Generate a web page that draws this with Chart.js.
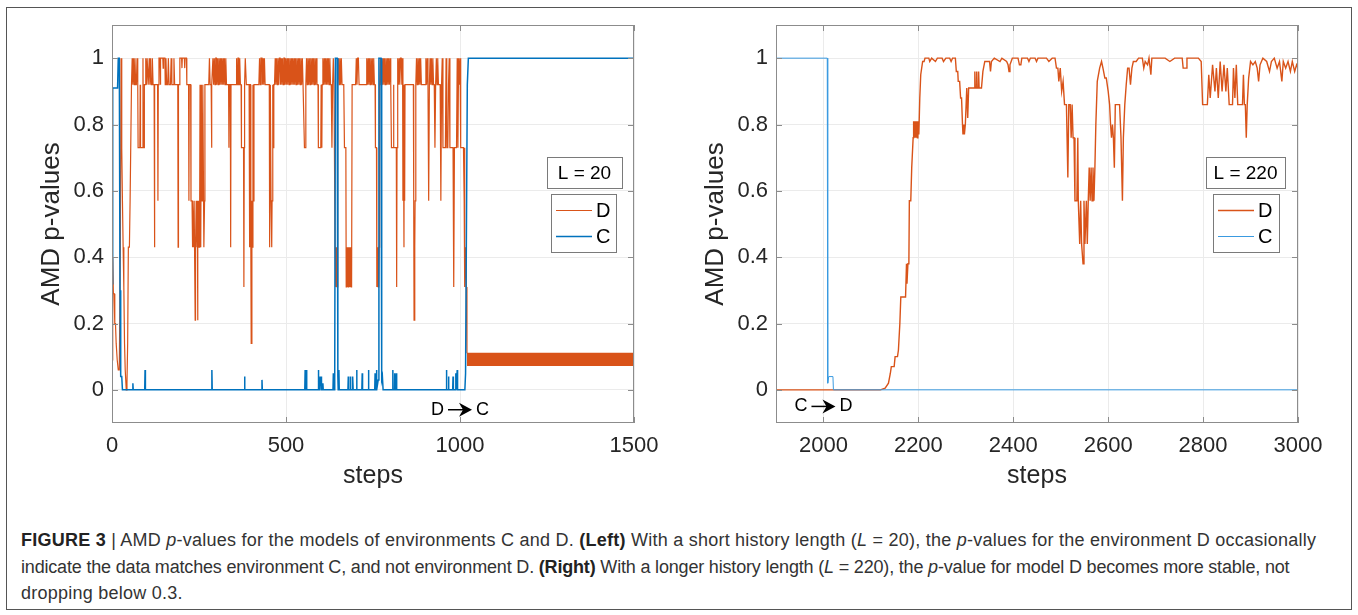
<!DOCTYPE html>
<html lang="en">
<head>
  <meta charset="UTF-8">
  <title>AMD p-values, environments C and D</title>
  <script src="https://cdn.jsdelivr.net/npm/chart.js"></script>
  <style>
    body { margin: 0; background: #fff; }
    #frame { position: absolute; left: 6px; top: 7px; width: 1346px; height: 603px; border: 1px solid #555; box-sizing: border-box; }
    .panel { position: absolute; top: 0; }
    #leftChart { left: 0; }
    #rightChart { left: 680px; }
    #caption { position: absolute; left: 21px; top: 527px; font: 18px "Liberation Sans", Arial, sans-serif;
               letter-spacing: 0.24px; line-height: 26.5px; color: #333; white-space: nowrap; }
    #caption .tight { letter-spacing: -0.18px; }
    #caption b { color: #222; }
  </style>
</head>
<body>
<div id="frame"></div>
<canvas id="leftChart" class="panel" width="680" height="500"></canvas>
<canvas id="rightChart" class="panel" width="678" height="500"></canvas>
<div id="caption"><b>FIGURE 3</b> | AMD <i>p</i>-values for the models of environments C and D. <b>(Left)</b> With a short history length (<i>L</i> = 20), the <i>p</i>-values for the environment D occasionally<br><span class="tight">indicate the data matches environment C, and not environment D. <b>(Right)</b> With a longer history length (<i>L</i> = 220), the <i>p</i>-value for model D becomes more stable, not</span><br>dropping below 0.3.</div>

<script>
  // ---- data: [step, p-value] pairs ----
  // L = 20, change D -> C at step ~1020
  const dShort = [
    [0,0.09],[2,0.40],[4,0.29],[6,0.29],[8,0.20],[10,0.20],[12,0.14],[15,0.09],[18,0.06],[21,0.06],[24,0.43],[26,1],[28,0.73],
    [30,0.57],[32,0.43],[34,0.31],[36,0.14],[38,0.06],[41,0],[43,0.02],[45,0.14],[47,0.43],[50,0.43],[52,0.57],[54,0.57],[56,0.92],[58,1],
    [60,0.92],[62,1],[64,0.92],[66,1],[68,0.92],[70,0.92],[72,1],[74,0.92],[75,0.73],[80,0.73],[81,0.92],[82,0.73],[88,0.73],[89,1],
    [90,0.73],[92,0.73],[93,0.92],[96,0.92],[97,1],[99,0.92],[101,1],[103,1],[104,0.92],[107,1],[109,0.92],[111,1],[113,0.92],[115,0.92],
    [116,1],[118,0.92],[121,0.92],[122,0.43],[123,0.92],[131,0.92],[132,0.57],[133,0.92],[135,1],[138,1],[139,0.92],[140,1],[146,1],
    [147,0.97],[148,1],[152,1],[153,0.92],[155,1],[157,0.92],[160,0.92],[162,1],[164,0.92],[168,0.92],[170,1],[172,0.92],[176,0.92],
    [178,1],[180,0.92],[189,0.92],[190,0.43],[191,0.92],[194,0.92],[195,1],[200,1],[201,0.97],[202,1],[208,1],[209,0.97],[210,1],[214,1],
    [215,0.92],[220,0.92],[221,0.57],[222,0.92],[226,0.92],[227,0.57],[230,0.57],[231,0.43],[232,0.57],[235,0.43],[236,0.57],[238,0.57],
    [239,0.21],[240,0.43],[242,0.57],[244,0.43],[245,0.57],[246,0.21],[247,0.43],[249,0.57],[250,0.43],[252,0.57],[253,0.92],[255,0.43],
    [257,0.92],[259,0.57],[261,0.92],[264,0.43],[266,0.57],[267,0.92],[278,0.92],[280,1],[282,0.92],[285,0.92],[286,0.73],[287,0.92],
    [290,1],[292,0.92],[294,1],[296,0.92],[298,1],[300,1],[301,0.92],[303,1],[305,0.92],[307,1],[309,0.92],[311,1],[313,0.92],[315,1],
    [317,0.92],[319,1],[321,0.92],[323,1],[325,0.92],[327,1],[329,0.92],[335,0.92],[336,0.73],[337,0.92],[340,0.92],[341,0.43],[342,0.92],
    [357,0.92],[358,1],[360,0.92],[362,1],[364,1],[365,0.92],[367,1],[369,0.92],[371,0.92],[372,0.73],[378,0.73],[379,0.31],[380,0.73],
    [381,0.92],[383,1],[385,1],[386,0.92],[394,0.92],[395,0.43],[396,0.92],[398,0.92],[399,0.43],[400,0.14],[402,0.57],[404,0.43],
    [405,0.92],[407,0.57],[408,0.92],[422,0.92],[424,1],[426,0.92],[428,1],[431,1],[432,0.92],[434,1],[436,0.92],[438,1],[440,0.92],
    [452,0.92],[453,0.43],[455,0.92],[457,0.57],[459,0.43],[460,0.57],[462,0.92],[464,0.73],[465,0.92],[467,0.92],[469,1],[471,0.92],
    [473,1],[475,0.92],[477,1],[479,0.92],[481,1],[483,1],[484,0.92],[486,1],[488,0.92],[490,1],[492,0.92],[494,1],[496,1],[497,0.92],
    [499,1],[501,0.92],[503,1],[505,0.92],[507,1],[509,0.92],[511,1],[513,0.92],[515,1],[517,0.92],[519,1],[521,0.92],[523,1],[525,0.92],
    [527,1],[529,0.92],[531,1],[533,0.92],[535,1],[537,0.92],[539,1],[541,0.92],[543,1],[545,0.92],[547,1],[549,0.92],[551,0.92],
    [553,0.73],[556,0.73],[557,0.92],[559,1],[561,0.92],[563,1],[565,0.92],[567,1],[569,0.92],[571,1],[573,0.92],[575,1],[577,0.92],
    [579,1],[581,0.92],[583,1],[585,0.92],[587,1],[589,0.92],[592,0.92],[593,0.73],[600,0.73],[601,0.92],[603,0.73],[604,0.92],[606,1],
    [608,0.92],[610,1],[612,0.92],[614,1],[616,0.92],[618,1],[620,0.92],[622,1],[624,0.92],[626,1],[628,0.92],[630,0.92],[632,0.73],
    [634,0.92],[636,1],[638,0.92],[640,0.92],[641,0.43],[643,0.31],[644,0.43],[645,0.31],[646,0.43],[647,0.31],[648,0.43],[649,0.92],
    [651,1],[653,0.92],[655,1],[657,0.92],[659,1],[661,0.92],[666,0.92],[668,0.73],[672,0.73],[673,0.31],[674,0.43],[675,0.31],[676,0.43],
    [677,0.31],[678,0.43],[679,0.31],[680,0.43],[681,0.31],[682,0.43],[683,0.31],[684,0.43],[685,0.31],[686,0.43],[687,0.31],[688,0.43],
    [689,0.31],[690,0.92],[700,0.92],[702,1],[704,0.92],[706,1],[708,1],[710,0.92],[730,0.92],[732,1],[734,0.92],[736,1],[738,0.92],
    [740,1],[742,0.92],[744,1],[746,0.92],[748,1],[750,0.92],[752,1],[754,0.92],[756,0.92],[757,0.73],[760,0.73],[761,0.31],[762,0.43],
    [763,0.31],[764,0.43],[765,0.31],[766,0.43],[767,0.31],[768,0.43],[769,0.92],[771,1],[773,0.92],[775,1],[777,0.92],[779,1],[781,0.92],
    [783,1],[785,0.92],[787,1],[789,0.92],[791,1],[793,0.92],[795,1],[797,0.92],[799,1],[801,0.92],[803,0.73],[808,0.73],[809,0.92],
    [810,0.73],[817,0.73],[818,0.31],[819,0.73],[821,1],[823,0.92],[825,1],[827,0.92],[829,1],[831,1],[833,0.92],[835,1],[836,0.57],
    [837,0.92],[839,0.43],[840,0.92],[841,0.57],[842,0.92],[866,0.92],[867,0.57],[868,0.21],[870,0.43],[871,0.57],[873,0.92],[875,1],
    [877,0.92],[879,1],[881,0.92],[883,1],[885,0.92],[887,1],[889,0.92],[900,0.92],[902,1],[904,0.92],[906,1],[908,0.92],[910,0.57],
    [912,0.92],[914,1],[916,0.92],[918,1],[920,0.92],[922,1],[924,0.92],[926,0.92],[928,0.73],[930,0.92],[932,1],[934,0.92],[936,1],
    [938,0.92],[943,0.92],[945,0.57],[947,0.92],[949,1],[951,0.73],[958,0.73],[960,1],[962,0.73],[965,0.73],[967,0.92],[969,1],
    [971,0.73],[980,0.73],[982,0.31],[984,0.73],[990,0.73],[992,1],[994,0.73],[996,1],[998,0.92],[1000,1],[1002,0.73],[1010,0.73],
    [1012,0.57],[1013,0.73],[1014,0.31],[1016,0.43],[1018,0.31],[1020,0.11]
  ];
  // after the switch D flickers fast between these two levels
  const dShortBandSteps = [1020, 1500];
  const dShortBandLow = 0.072;
  const dShortBandHigh = 0.112;

  const cShort = [
    [0,0.32],[2,0.91],[16,0.91],[18,1],[21,1],[23,0.3],[25,0.04],[28,0.04],[30,0],[59,0],[60,0.02],[61,0],[94,0],[95,0.06],[96,0],
    [286,0],[287,0.06],[288,0],[380,0],[381,0.04],[382,0],[430,0],[431,0.03],[432,0],[554,0],[555,0.06],[556,0],[558,0],[559,0.06],
    [560,0],[592,0],[593,0.06],[594,0],[597,0],[598,0.04],[599,0.02],[601,0.04],[602,0],[605,0],[606,0.02],[607,0],[635,0],[636,0.05],
    [638,0],[640,0.03],[642,1],[647,1],[649,0.04],[650,0],[652,0.06],[653,0],[678,0],[679,0.04],[680,0],[684,0],[685,0.04],[686,0],
    [690,0],[691,0.02],[692,0.04],[693,0],[702,0],[703,0.06],[704,0],[718,0],[719,0.05],[720,0],[736,0],[737,0.06],[738,0],[755,0],
    [756,0.05],[757,0],[759,0],[760,0.06],[761,0],[765,0.03],[767,1],[773,1],[775,0.03],[777,0.04],[779,0],[806,0],[807,0.06],[808,0],
    [811,0],[812,0.05],[813,0],[816,0],[817,0.05],[818,0],[960,0],[961,0.06],[962,0],[966,0],[967,0.04],[968,0],[979,0],[980,0.04],
    [981,0],[987,0],[988,0.05],[989,0],[991,0],[992,0.06],[993,0],[1014,0],[1016,0.05],[1021,0.92],[1024,1],[1500,1]
  ];

  // L = 220, change C -> D at step 2000
  const dLong = [
    [1900,0],[2120,0],[2130,0.005],[2137,0.02],[2141,0.05],[2143,0.07],[2149,0.07],[2151,0.1],[2156,0.1],[2158,0.12],[2161,0.2],
    [2163,0.28],[2173,0.28],[2175,0.38],[2176,0.32],[2178,0.38],[2180,0.38],[2181,0.57],[2184,0.57],[2186,0.67],[2187,0.7],[2189,0.76],
    [2190,0.81],[2192,0.76],[2193,0.81],[2195,0.76],[2196,0.81],[2198,0.76],[2199,0.81],[2201,0.77],[2203,0.88],[2205,0.95],[2209,0.99],
    [2212,0.99],[2214,1],[2222,1],[2224,0.99],[2228,1],[2236,0.99],[2240,1],[2250,1],[2253,0.99],[2258,1],[2266,1],[2269,0.99],[2272,1],
    [2278,1],[2280,0.96],[2283,0.96],[2284,0.93],[2287,0.93],[2289,0.88],[2291,0.88],[2293,0.80],[2294,0.77],[2296,0.80],[2297,0.77],
    [2299,0.80],[2302,0.91],[2304,0.82],[2306,0.91],[2318,0.91],[2319,0.96],[2320,0.91],[2322,0.91],[2323,0.96],[2324,0.91],[2326,0.91],
    [2327,0.96],[2328,0.91],[2333,0.91],[2336,0.96],[2340,0.99],[2350,0.99],[2352,0.96],[2354,0.99],[2360,1],[2372,0.99],[2376,1],
    [2386,0.99],[2389,0.98],[2391,0.96],[2393,0.98],[2398,1],[2410,1],[2413,0.98],[2416,0.98],[2418,1],[2430,1],[2433,0.99],[2436,1],
    [2446,1],[2449,0.99],[2452,1],[2470,1],[2475,0.99],[2482,1],[2488,1],[2491,0.97],[2494,0.97],[2496,0.93],[2499,0.97],[2502,0.9],
    [2505,0.93],[2508,0.86],[2512,0.86],[2515,0.64],[2517,0.86],[2520,0.86],[2522,0.76],[2524,0.86],[2526,0.76],[2528,0.76],[2530,0.57],
    [2534,0.57],[2536,0.76],[2537,0.57],[2540,0.44],[2542,0.57],[2544,0.44],[2547,0.38],[2549,0.57],[2551,0.44],[2554,0.57],[2556,0.44],
    [2558,0.57],[2560,0.67],[2562,0.57],[2564,0.67],[2566,0.57],[2568,0.67],[2570,0.57],[2572,0.67],[2574,0.8],[2577,0.93],[2582,0.97],
    [2586,0.99],[2589,0.97],[2593,0.94],[2596,0.94],[2600,0.9],[2603,0.86],[2605,0.8],[2607,0.76],[2609,0.8],[2611,0.76],[2613,0.67],
    [2615,0.86],[2624,0.86],[2627,0.76],[2630,0.57],[2632,0.76],[2635,0.86],[2638,0.92],[2641,0.97],[2644,0.97],[2647,0.92],[2650,0.97],
    [2653,0.99],[2659,0.99],[2664,1],[2672,1],[2675,0.97],[2678,0.99],[2683,0.98],[2686,1],[2690,0.95],[2692,1],[2720,1],[2730,0.99],
    [2740,1],[2756,1],[2758,0.97],[2764,0.97],[2766,1],[2790,1],[2796,0.99],[2799,0.86],[2809,0.86],[2812,0.95],[2815,0.88],[2820,0.98],
    [2825,0.9],[2828,0.97],[2832,0.88],[2836,0.99],[2840,0.9],[2844,0.98],[2848,0.9],[2851,0.97],[2855,0.86],[2862,0.86],[2864,0.97],
    [2867,0.88],[2870,0.98],[2873,0.86],[2883,0.86],[2885,0.95],[2887,0.86],[2889,0.86],[2891,0.76],[2893,0.86],[2896,0.94],[2900,0.99],
    [2905,0.98],[2910,0.99],[2914,0.97],[2917,0.93],[2920,0.98],[2926,1],[2934,0.99],[2940,0.96],[2944,0.99],[2950,1],[2956,0.97],
    [2961,0.99],[2966,0.93],[2969,0.99],[2974,0.97],[2979,0.99],[2984,0.96],[2988,0.99],[2993,0.96],[2997,0.98],[3000,0.97]
  ];
  const cLong = [[1900,1],[2008,1],[2009,0.02],[2011,0.04],[2020,0.04],[2021,0],[3000,0]];

  const pTicks = [0, 0.2, 0.4, 0.6, 0.8, 1];
  const stepTicksShort = [0, 500, 1000, 1500];
  const stepTicksLong = [2000, 2200, 2400, 2600, 2800, 3000];

  const ORANGE = '#D95319';
  const BLUE = '#0072BD';
  const FONT = '"Liberation Sans", Arial, Helvetica, sans-serif';
  const AXIS_GREY = '#8c8c8c';

  const toXY = pairs => pairs.map(([x, y]) => ({x, y}));

  // box, inward ticks, legend with its title box and the switch marker
  const matlabDecor = {
    id: 'matlabDecor',
    afterDraw(chart, args, o) {
      const {ctx, chartArea: a, scales: {x, y}} = chart;
      ctx.save();
      ctx.strokeStyle = AXIS_GREY;
      ctx.lineWidth = 1;
      ctx.beginPath();
      y.ticks.forEach(t => {
        const py = Math.round(y.getPixelForValue(t.value)) + 0.5;
        ctx.moveTo(a.left, py); ctx.lineTo(a.left + 6, py);
        ctx.moveTo(a.right, py); ctx.lineTo(a.right - 6, py);
      });
      x.ticks.forEach(t => {
        const px = Math.round(x.getPixelForValue(t.value)) + 0.5;
        ctx.moveTo(px, a.top); ctx.lineTo(px, a.top + 6);
        ctx.moveTo(px, a.bottom); ctx.lineTo(px, a.bottom - 6);
      });
      ctx.stroke();
      ctx.strokeRect(Math.round(a.left) + 0.5, Math.round(a.top) + 0.5, Math.round(a.width) - 1, Math.round(a.height) - 1);

      // legend title box
      const tx = Math.round(a.right - o.titleRight - o.titleWidth), ty = Math.round(a.top + 132);
      ctx.fillStyle = '#fff';
      ctx.fillRect(tx, ty, o.titleWidth, 31);
      ctx.strokeStyle = '#7a7a7a';
      ctx.strokeRect(tx + 0.5, ty + 0.5, o.titleWidth, 31);
      ctx.fillStyle = '#000';
      ctx.font = '19px ' + FONT;
      ctx.textAlign = 'center';
      ctx.textBaseline = 'middle';
      ctx.fillText(o.title, tx + o.titleWidth / 2, ty + 17);

      // legend entries
      const bx = Math.round(a.right - o.boxRight - o.boxWidth), by = Math.round(a.top + 169);
      ctx.fillStyle = '#fff';
      ctx.fillRect(bx, by, o.boxWidth, 58);
      ctx.strokeRect(bx + 0.5, by + 0.5, o.boxWidth, 58);
      ctx.font = '20px ' + FONT;
      ctx.textAlign = 'left';
      chart.data.datasets.filter(ds => ds.label === 'D' || ds.label === 'C').forEach((ds, i) => {
        const ly = by + 16.5 + i * 26;
        ctx.strokeStyle = ds.borderColor;
        ctx.lineWidth = ds.borderWidth;
        ctx.beginPath();
        ctx.moveTo(bx + 5, ly); ctx.lineTo(bx + 41, ly);
        ctx.stroke();
        ctx.fillStyle = '#000';
        ctx.fillText(ds.label, bx + 45, ly + 1);
      });

      // "from -> to" marker under the switch step
      const n = o.note;
      const cx = x.getPixelForValue(n.at), cy = y.getPixelForValue(n.y);
      ctx.font = '18px ' + FONT;
      const w1 = ctx.measureText(n.from).width, w2 = ctx.measureText(n.to).width;
      const arrow = 24, gap = 4;
      const sx = cx - (w1 + w2 + arrow + 2 * gap) / 2;
      ctx.fillStyle = '#000';
      ctx.fillText(n.from, sx, cy);
      const ax0 = sx + w1 + gap, ax1 = ax0 + arrow;
      ctx.strokeStyle = '#000';
      ctx.lineWidth = 1.5;
      ctx.beginPath(); ctx.moveTo(ax0, cy); ctx.lineTo(ax1 - 8, cy); ctx.stroke();
      ctx.beginPath();
      ctx.moveTo(ax1, cy); ctx.lineTo(ax1 - 13, cy - 7); ctx.lineTo(ax1 - 9, cy); ctx.lineTo(ax1 - 13, cy + 7);
      ctx.closePath(); ctx.fill();
      ctx.fillText(n.to, ax1 + gap, cy);
      ctx.restore();
    }
  };

  function makeChart(id, cfg) {
    const lineDs = (label, pts, color, width, order) => ({
      label, data: toXY(pts), borderColor: color, borderWidth: width,
      pointRadius: 0, tension: 0, fill: false, order
    });
    const datasets = [lineDs('D', cfg.d, ORANGE, cfg.dWidth, 2)];
    if (cfg.band) {
      datasets.push({label: '', data: cfg.band.steps.map(s => ({x: s, y: cfg.band.low})),
                     borderWidth: 0, pointRadius: 0, fill: false, order: 2});
      datasets.push({label: '', data: cfg.band.steps.map(s => ({x: s, y: cfg.band.high})),
                     borderWidth: 0, pointRadius: 0, fill: '-1', backgroundColor: ORANGE, order: 2});
    }
    datasets.push(lineDs('C', cfg.c, cfg.cColor, cfg.cWidth, 1));

    return new Chart(document.getElementById(id), {
      type: 'line',
      data: {datasets},
      options: {
        responsive: false,
        animation: false,
        layout: {padding: {top: 25, right: cfg.padRight, left: 0, bottom: 0}},
        plugins: {
          legend: {display: false},
          tooltip: {enabled: false},
          matlabDecor: cfg.decor
        },
        scales: {
          x: {
            type: 'linear', min: cfg.xMin, max: cfg.xMax,
            afterBuildTicks: s => { s.ticks = cfg.xTicks.map(v => ({value: v})); },
            afterFit: s => { s.height = 77; },
            grid: {color: '#ebebeb', drawTicks: false},
            border: {display: false},
            ticks: {padding: 10, color: '#262626', font: {family: FONT, size: 22}, maxRotation: 0,
                    callback: v => String(v)},
            title: {display: true, text: 'steps', color: '#262626', font: {family: FONT, size: 25},
                    padding: {top: 0, bottom: 9}}
          },
          y: {
            min: -0.1, max: 1.1,
            afterBuildTicks: s => { s.ticks = pTicks.map(v => ({value: v})); },
            afterFit: s => { s.width = cfg.yWidth; },
            grid: {color: '#ebebeb', drawTicks: false},
            border: {display: false},
            ticks: {padding: 8, color: '#262626', font: {family: FONT, size: 22},
                    callback: v => String(+v.toFixed(1))},
            title: {display: true, text: 'AMD p-values', color: '#262626', font: {family: FONT, size: 26},
                    padding: {top: cfg.yTitlePad, bottom: 0}}
          }
        }
      },
      plugins: [matlabDecor]
    });
  }

  makeChart('leftChart', {
    d: dShort, c: cShort, dWidth: 1.2, cColor: BLUE, cWidth: 1.5,
    band: {steps: dShortBandSteps, low: dShortBandLow, high: dShortBandHigh},
    xMin: 0, xMax: 1500, xTicks: stepTicksShort,
    yWidth: 112, padRight: 46, yTitlePad: 36,
    decor: {title: 'L = 20', titleWidth: 75, titleRight: 12, boxWidth: 65, boxRight: 18,
            note: {at: 1000, y: -0.06, from: 'D', to: 'C'}}
  });

  makeChart('rightChart', {
    d: dLong, c: cLong, dWidth: 1.4, cColor: '#3a9ae0', cWidth: 1,
    xMin: 1900, xMax: 3000, xTicks: stepTicksLong,
    yWidth: 96, padRight: 60, yTitlePad: 20,
    decor: {title: 'L = 220', titleWidth: 79, titleRight: 13, boxWidth: 66, boxRight: 19,
            note: {at: 2000, y: -0.05, from: 'C', to: 'D'}}
  });
</script>
</body>
</html>
